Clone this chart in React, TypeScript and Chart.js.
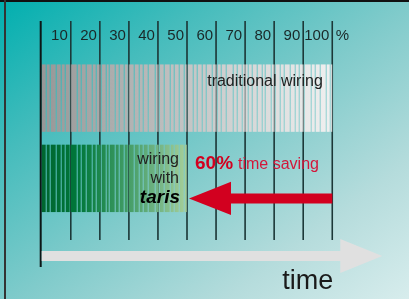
import React, { useEffect, useRef } from "react";
import { Chart, registerables } from "chart.js";

Chart.register(...registerables);

// ---- data ----
const categories = ["traditional wiring", "wiring with taris"];
const durations = [100, 50];
const tickValues = [0, 10, 20, 30, 40, 50, 60, 70, 80, 90, 100];
const tickLabels = ["", "10", "20", "30", "40", "50", "60", "70", "80", "90", "100"];
const unitLabel = "%";
const savingValue = "60%";
const savingText = "time saving";
const tarisLines = ["wiring", "with", "taris"];
const axisTitle = "time";

// ---- styles ----
const FONT = '"Liberation Sans", Arial, Helvetica, sans-serif';
const grayStops: [number, string][] = [
  [0, "#979797"],
  [0.5, "#c4c4c4"],
  [1, "#f0f0f0"],
];
const greenStops: [number, string][] = [
  [0, "#00652f"],
  [0.25, "#00773a"],
  [0.55, "#3a9860"],
  [0.8, "#72b484"],
  [1, "#a7cf99"],
];
const segPattern = [4, 3, 5, 4, 3, 4, 6, 3, 4, 5, 3, 4, 4, 2, 5, 3];
const RED = "#d2001f";

function drawStriped(ctx: CanvasRenderingContext2D, b: any, stops: [number, string][]) {
  const left = Math.min(b.base, b.x);
  const right = Math.max(b.base, b.x);
  const top = b.y - b.height / 2;
  const h = b.height;
  const g = ctx.createLinearGradient(left, 0, right, 0);
  stops.forEach(([o, c]) => g.addColorStop(o, c));
  ctx.fillStyle = g;
  let x = left;
  let i = 0;
  while (x < right) {
    const w = Math.min(segPattern[i % segPattern.length], right - x);
    ctx.fillRect(x, top, w, h);
    x += w + 1;
    i++;
  }
}

const infographicPlugin = {
  id: "infographic",
  beforeDraw(chart: any) {
    const ctx: CanvasRenderingContext2D = chart.ctx;
    const W = chart.width;
    const H = chart.height;
    ctx.save();
    const g = ctx.createLinearGradient(0, 0, 300, 400);
    g.addColorStop(0, "#00afaf");
    g.addColorStop(0.25, "#45bcbc");
    g.addColorStop(0.5, "#80cbcb");
    g.addColorStop(0.75, "#b5dcdc");
    g.addColorStop(1, "#dcefef");
    ctx.fillStyle = g;
    ctx.fillRect(0, 0, W, H);
    ctx.fillStyle = "#111";
    ctx.fillRect(0, 0, W, 2);
    ctx.fillStyle = "#333";
    ctx.fillRect(4, 0, 2, H);
    ctx.restore();
  },
  afterDatasetsDraw(chart: any) {
    const ctx: CanvasRenderingContext2D = chart.ctx;
    const xs = chart.scales.x;
    const meta = chart.getDatasetMeta(0);
    const bars = meta.data.map((el: any) => el.getProps(["x", "y", "base", "height"], true));
    const gridTop = 21;
    const gridBottom = 240;
    ctx.save();
    ctx.strokeStyle = "#1d3838";
    ctx.lineWidth = 1.5;
    const drawGrid = () =>
      tickValues.forEach((v) => {
        if (v === 0) return;
        const px = xs.getPixelForValue(v);
        ctx.beginPath();
        ctx.moveTo(px, gridTop);
        ctx.lineTo(px, gridBottom);
        ctx.stroke();
      });
    drawGrid();
    drawStriped(ctx, bars[0], grayStops);
    // faint grid showing through the grey bar
    ctx.globalAlpha = 0.45;
    ctx.strokeStyle = "#1d3838";
    ctx.lineWidth = 1.2;
    drawGrid();
    ctx.globalAlpha = 1;
    drawStriped(ctx, bars[1], greenStops);
    // zero line
    const x0 = xs.getPixelForValue(0);
    ctx.strokeStyle = "#0b1616";
    ctx.lineWidth = 2;
    ctx.beginPath();
    ctx.moveTo(x0 - 1, gridTop);
    ctx.lineTo(x0 - 1, 267);
    ctx.stroke();
    ctx.restore();
  },
  afterDraw(chart: any) {
    const ctx: CanvasRenderingContext2D = chart.ctx;
    const xs = chart.scales.x;
    const meta = chart.getDatasetMeta(0);
    const bars = meta.data.map((el: any) => el.getProps(["x", "y", "base", "height"], true));
    const x0 = xs.getPixelForValue(0);
    const x100 = xs.getPixelForValue(100);
    ctx.save();
    // tick labels
    ctx.fillStyle = "#1a2828";
    ctx.font = `15px ${FONT}`;
    ctx.textBaseline = "alphabetic";
    ctx.textAlign = "right";
    tickValues.forEach((v, i) => {
      if (!tickLabels[i]) return;
      ctx.fillText(tickLabels[i], xs.getPixelForValue(v) - 3, 40);
    });
    ctx.textAlign = "left";
    ctx.fillText(unitLabel, x100 + 3.5, 40);

    // traditional label
    const b0 = bars[0];
    ctx.fillStyle = "#222";
    ctx.font = `16px ${FONT}`;
    ctx.textAlign = "right";
    ctx.fillText(categories[0], b0.x - 9.5, b0.y - b0.height / 2 + 22);

    // taris label
    const b1 = bars[1];
    const tr = b1.x - 8;
    const t1 = b1.y - b1.height / 2;
    ctx.fillStyle = "#222";
    ctx.font = `16px ${FONT}`;
    ctx.fillText(tarisLines[0], tr, t1 + 19.5);
    ctx.fillText(tarisLines[1], tr, t1 + 38);
    ctx.fillStyle = "#000";
    ctx.font = `italic bold 19px ${FONT}`;
    ctx.fillText(tarisLines[2], tr + 1, t1 + 58.5);

    // red arrow
    const ay = b1.y + 20;
    const tip = b1.x + 2;
    ctx.fillStyle = RED;
    ctx.beginPath();
    ctx.moveTo(tip, ay);
    ctx.lineTo(tip + 42, ay - 16.7);
    ctx.lineTo(tip + 42, ay - 5);
    ctx.lineTo(x100, ay - 5);
    ctx.lineTo(x100, ay + 5);
    ctx.lineTo(tip + 42, ay + 5);
    ctx.lineTo(tip + 42, ay + 16.7);
    ctx.closePath();
    ctx.fill();

    // saving text
    ctx.textAlign = "left";
    ctx.font = `bold 19px ${FONT}`;
    ctx.fillStyle = RED;
    const sx = b1.x + 8;
    const sy = 168.5;
    ctx.fillText(savingValue, sx, sy);
    const w = ctx.measureText(savingValue).width;
    ctx.font = `16px ${FONT}`;
    ctx.fillStyle = "#d3173a";
    ctx.fillText(savingText, sx + w + 5, sy);

    // time axis arrow
    const ty = 256;
    ctx.fillStyle = "#e0e0e0";
    ctx.beginPath();
    ctx.moveTo(x0, ty - 5);
    ctx.lineTo(x100 + 8, ty - 5);
    ctx.lineTo(x100 + 8, ty - 17);
    ctx.lineTo(x100 + 50, ty);
    ctx.lineTo(x100 + 8, ty + 17);
    ctx.lineTo(x100 + 8, ty + 5);
    ctx.lineTo(x0, ty + 5);
    ctx.closePath();
    ctx.fill();

    ctx.fillStyle = "#1a1a1a";
    ctx.font = `27px ${FONT}`;
    ctx.textAlign = "right";
    ctx.fillText(axisTitle, x100 + 1, 288.5);
    ctx.restore();
  },
};

export default function App() {
  const ref = useRef<HTMLCanvasElement>(null);
  useEffect(() => {
    document.body.style.margin = "0";
    const canvas = ref.current!;
    const chart = new Chart(canvas, {
      type: "bar",
      data: {
        labels: categories,
        datasets: [
          {
            data: durations,
            backgroundColor: "rgba(0,0,0,0)",
            borderWidth: 0,
            barPercentage: 1,
            categoryPercentage: 0.84,
          },
        ],
      },
      options: {
        indexAxis: "y",
        responsive: false,
        animation: false,
        devicePixelRatio: 1,
        layout: { padding: { left: 41.7, right: 76.7, top: 58, bottom: 80.5 } },
        scales: {
          x: { type: "linear", min: 0, max: 100, display: false },
          y: { type: "category", display: false },
        },
        plugins: { legend: { display: false }, tooltip: { enabled: false } },
      },
      plugins: [infographicPlugin],
    } as any);
    return () => chart.destroy();
  }, []);
  return <canvas ref={ref} width={409} height={299} style={{ display: "block" }} />;
}
